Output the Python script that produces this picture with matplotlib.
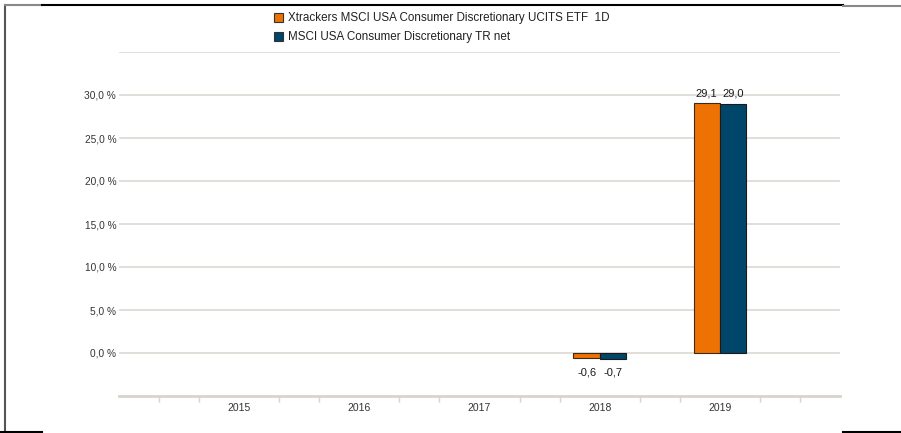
#! /usr/bin/env python3

import numpy as np
import matplotlib.pyplot as plt
from matplotlib.lines import Line2D
from matplotlib.patches import Patch

plt.rcParams['font.family'] = ['Liberation Sans', 'DejaVu Sans']

years = ['2015', '2016', '2017', '2018', '2019']
etf = [np.nan, np.nan, np.nan, -0.6, 29.1]
index = [np.nan, np.nan, np.nan, -0.7, 29.0]
series_names = ['Xtrackers MSCI USA Consumer Discretionary UCITS ETF  1D',
                'MSCI USA Consumer Discretionary TR net']
yticks = [0, 5, 10, 15, 20, 25, 30]

orange = '#ee7203'
blue = '#00466a'
grid_col = '#e2dfd9'
text_col = '#333333'


def fmt(v):
    return '{:.1f}'.format(v).replace('.', ',')


fig = plt.figure(figsize=(9.01, 4.33), dpi=100)
ax = fig.add_axes([119/901, 1 - 396/433, 721/901, 344/433])

x = np.arange(1, len(years) + 1)
w = 0.218
ax.bar(x - w/2, etf, w, color=orange, edgecolor='#3a2a1a', linewidth=0.8, zorder=3)
ax.bar(x + w/2, index, w, color=blue, edgecolor='#1a1a1a', linewidth=0.8, zorder=3)

for xs, vals in [(x - w/2, etf), (x + w/2, index)]:
    for xi, v in zip(xs, vals):
        if np.isnan(v):
            continue
        off = 7 if v >= 0 else -10
        ax.annotate(fmt(v), (xi, v), xytext=(0, off), textcoords='offset points',
                    ha='center', va='center', fontsize=8, color='#1a1a1a')

ax.set_xlim(0, 6)
ax.set_ylim(-5, 35)
ax.set_yticks(yticks)
ax.set_yticklabels([fmt(t) + ' %' for t in yticks], fontsize=7.3, color=text_col)
for g in [0, 5, 10, 15, 20, 25, 30, 35]:
    ax.axhline(g, color=grid_col, linewidth=1.4, zorder=1)
ax.tick_params(axis='y', length=0, pad=2)

ax.set_xticks(x)
ax.set_xticklabels(years, fontsize=7.5, color=text_col)
ax.set_xticks([k/3 for k in range(19) if k % 3 != 0], minor=True)
ax.tick_params(axis='x', which='major', length=0, pad=5)
ax.tick_params(axis='x', which='minor', length=4, color='#d8d4cc', width=1)

for s in ['top', 'right', 'left']:
    ax.spines[s].set_visible(False)
ax.spines['bottom'].set_color('#d8d4cc')
ax.spines['bottom'].set_linewidth(2)

handles = [Patch(facecolor=orange, edgecolor='#333333', linewidth=0.8),
           Patch(facecolor=blue, edgecolor='#333333', linewidth=0.8)]
fig.legend(handles, series_names, loc='upper left', bbox_to_anchor=(263/901, 1 - 2/433),
           frameon=False, fontsize=8.4, handlelength=0.8, handleheight=0.8,
           handletextpad=0.45, labelspacing=0.6, labelcolor='#222222')

# frame around the picture
fig.add_artist(Line2D([5/901, 5/901], [1 - 5/433, 0], color='#555555', lw=1.5))
fig.add_artist(Line2D([5/901, 42/901], [1 - 5/433, 1 - 5/433], color='#888888', lw=1.5))
fig.add_artist(Line2D([42/901, 843/901], [1 - 5/433, 1 - 5/433], color='black', lw=1.5))
fig.add_artist(Line2D([843/901, 1], [1 - 6/433, 1 - 6/433], color='#888888', lw=1.5))
fig.add_artist(Line2D([0, 42/901], [1/433, 1/433], color='black', lw=1.5))
fig.add_artist(Line2D([843/901, 1], [1/433, 1/433], color='black', lw=1.5))

fig.savefig('out.png', dpi=100)
